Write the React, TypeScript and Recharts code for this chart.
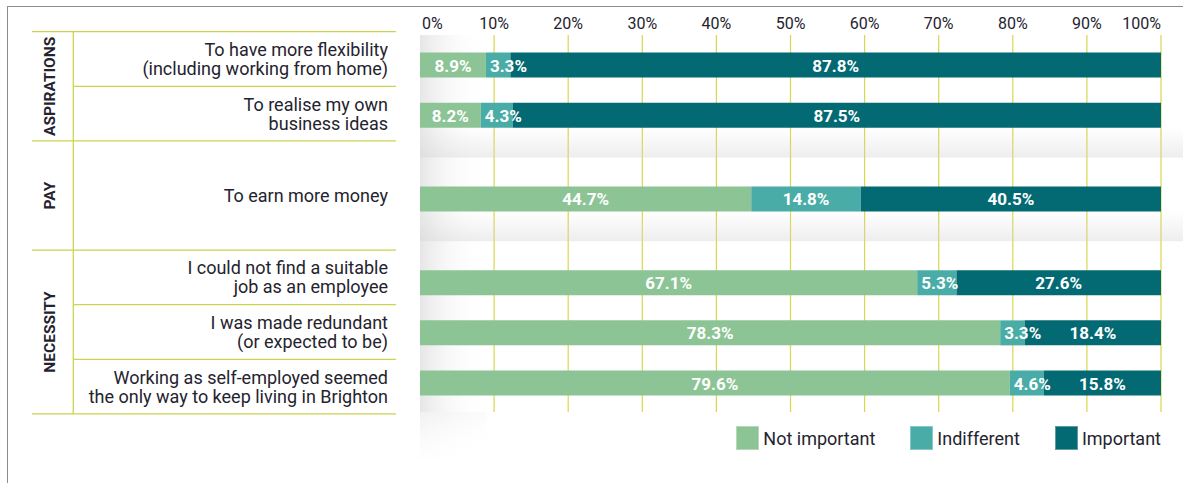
import React from 'react';
import {
  BarChart,
  Bar,
  XAxis,
  YAxis,
  CartesianGrid,
  Legend,
  LabelList,
  ReferenceArea,
} from 'recharts';

// ---------- data ----------
const categories = [
  'To have more flexibility\n(including working from home)',
  'To realise my own\nbusiness ideas',
  'To earn more money',
  'I could not find a suitable\njob as an employee',
  'I was made redundant\n(or expected to be)',
  'Working as self-employed seemed\nthe only way to keep living in Brighton',
];
const groupNames = ['ASPIRATIONS', 'PAY', 'NECESSITY'];
const categoryGroup = [0, 0, 1, 2, 2, 2];

const notImportant = [8.9, 8.2, 44.7, 67.1, 78.3, 79.6];
const indifferent = [3.3, 4.3, 14.8, 5.3, 3.3, 4.6];
const important = [87.8, 87.5, 40.5, 27.6, 18.4, 15.8];

const seriesKeys = ['notImportant', 'indifferent', 'important'];
const seriesNames = ['Not important', 'Indifferent', 'Important'];
const xTicks = [0, 10, 20, 30, 40, 50, 60, 70, 80, 90, 100];

// ---------- style / layout ----------
const COLORS = ['#8cc495', '#4aaca6', '#036a73'];
const FONT = 'Roboto, "DejaVu Sans", Arial, sans-serif';
const TEXT = '#24232e';
const GRID = '#d8d84c';
const TABLE_LINE = '#ccd34e';

const W = 1183;
const H = 483;
const ROW_STEP = 3; // y-units between rows of a group
const GROUP_STEP = 5; // y-units between groups
const BAR = 25;
const HALF_BAR_UNITS = 0.75;
const SHADE_UNITS = 1.8;
const LABEL_SIZE = 17;

// position of each row on the numeric band axis, derived from groups
const positions: number[] = [];
categories.forEach((_, i) => {
  if (i === 0) positions.push(0);
  else positions.push(positions[i - 1] + (categoryGroup[i] === categoryGroup[i - 1] ? ROW_STEP : GROUP_STEP));
});
const Y_DOMAIN: [number, number] = [-1.77, positions[positions.length - 1] + 1.75];

const data = categories.map((c, i) => ({
  name: c,
  pos: positions[i],
  notImportant: notImportant[i],
  indifferent: indifferent[i],
  important: important[i],
}));

// rows that close a group (but not the last group) get a shaded band beneath
const shadeRows = positions.filter(
  (_, i) => i < categories.length - 1 && categoryGroup[i] !== categoryGroup[i + 1],
);

const estWidth = (s: string, size: number) => {
  let w = 0;
  for (const ch of s) {
    if (ch === '.') w += 0.27;
    else if (ch === '%') w += 0.73;
    else w += 0.562;
  }
  return w * size;
};

const renderLabel = (props: any) => {
  const x = Number(props.x);
  const y = Number(props.y);
  const width = Number(props.width);
  const height = Number(props.height);
  const value = Number(props.value);
  if (!value) return null;
  const text = `${value.toFixed(1)}%`;
  const tw = estWidth(text, LABEL_SIZE);
  const fits = width >= tw + 5;
  return (
    <text
      x={fits ? x + width / 2 : x + 4}
      y={y + height / 2 + 6.5}
      textAnchor={fits ? 'middle' : 'start'}
      fill="#ffffff"
      fontFamily={FONT}
      fontSize={LABEL_SIZE}
      fontWeight={700}
    >
      {text}
    </text>
  );
};

const XTick = (props: any) => {
  const { x, y, payload } = props;
  const v = payload.value;
  const anchor = v === 0 ? 'start' : v === 100 ? 'end' : 'middle';
  return (
    <text
      x={Number(x) + (v === 0 ? 2 : 0)}
      y={Number(y)}
      dy={1.5}
      textAnchor={anchor}
      fill={TEXT}
      fontFamily={FONT}
      fontSize={16}
    >
      {v}%
    </text>
  );
};

const renderLegend = () => (
  <div
    style={{
      display: 'flex',
      justifyContent: 'flex-end',
      alignItems: 'center',
      paddingTop: 14,
      height: 24,
      fontFamily: FONT,
      fontSize: 18,
      color: TEXT,
    }}
  >
    {seriesNames.map((n, i) => (
      <div key={n} style={{ display: 'flex', alignItems: 'center', marginLeft: i ? 35 : 0 }}>
        <span
          style={{
            display: 'inline-block',
            width: 23,
            height: 24,
            background: COLORS[i],
            marginRight: 4,
            boxSizing: 'border-box',
            border: '1px solid rgba(255,255,255,0.35)',
          }}
        />
        <span>{n}</span>
      </div>
    ))}
  </div>
);

// ---------- left table ----------
const TABLE_TOP = 31.7;
const TABLE_UNIT = 54.6;
const T_X0 = 32;
const T_XV = 73.3;
const T_X1 = 396;
const LABEL_X = 388;

const LeftTable = () => {
  const groupSize = groupNames.map((_, g) => categoryGroup.filter((x) => x === g).length);
  const rows: { y0: number; y1: number }[] = [];
  let cur = TABLE_TOP;
  categories.forEach((_, i) => {
    const units = groupSize[categoryGroup[i]] === 1 ? 2 : 1;
    rows.push({ y0: cur, y1: cur + units * TABLE_UNIT });
    cur += units * TABLE_UNIT;
  });
  const bottom = cur;
  const groupSpans = groupNames.map((_, g) => {
    const idx = categoryGroup.map((x, i) => (x === g ? i : -1)).filter((i) => i >= 0);
    return { y0: rows[idx[0]].y0, y1: rows[idx[idx.length - 1]].y1 };
  });
  return (
    <svg width={420} height={H} style={{ position: 'absolute', left: 0, top: 0 }}>
      <line x1={T_X0} x2={T_X1} y1={TABLE_TOP} y2={TABLE_TOP} stroke={TABLE_LINE} strokeWidth={1.3} />
      <line x1={T_XV} x2={T_XV} y1={TABLE_TOP} y2={bottom} stroke={TABLE_LINE} strokeWidth={1.3} />
      {rows.map((r, i) => {
        const closesGroup = i === categories.length - 1 || categoryGroup[i] !== categoryGroup[i + 1];
        return (
          <line
            key={`l${i}`}
            x1={closesGroup ? T_X0 : T_XV}
            x2={T_X1}
            y1={r.y1}
            y2={r.y1}
            stroke={TABLE_LINE}
            strokeWidth={1.3}
          />
        );
      })}
      {rows.map((r, i) => {
        const lines = categories[i].split('\n');
        const c = (r.y0 + r.y1) / 2;
        return (
          <text key={`t${i}`} textAnchor="end" fill={TEXT} fontFamily={FONT} fontSize={18}>
            {lines.map((ln, k) => (
              <tspan key={k} x={LABEL_X} y={c + 6.5 + (k - (lines.length - 1) / 2) * 19}>
                {ln}
              </tspan>
            ))}
          </text>
        );
      })}
      {groupSpans.map((s, g) => {
        const cy = (s.y0 + s.y1) / 2;
        return (
          <text
            key={`g${g}`}
            x={55}
            y={cy}
            transform={`rotate(-90 55 ${cy})`}
            textAnchor="middle"
            fill={TEXT}
            fontFamily={FONT}
            fontSize={15.5}
            fontWeight={700}
          >
            {groupNames[g]}
          </text>
        );
      })}
    </svg>
  );
};

export default function App() {
  return (
    <div style={{ position: 'absolute', left: 0, top: 0, width: W, height: H, background: '#fff' }}>
      <div
        style={{
          position: 'absolute',
          left: 7,
          top: 6,
          width: W - 7,
          height: H - 6,
          borderTop: '1px solid #8c8c8c',
          borderLeft: '1px solid #8c8c8c',
          boxSizing: 'border-box',
        }}
      />
      <LeftTable />
      <div style={{ position: 'absolute', left: 0, top: 0 }}>
        <BarChart
          width={W}
          height={H}
          data={data}
          layout="vertical"
          barSize={BAR}
          margin={{ top: 0, right: 22, bottom: 33, left: 420 }}
        >
          <defs>
            <linearGradient id="leftShade" x1="0" y1="0" x2="1" y2="0">
              <stop offset="0" stopColor="#c8c8c8" stopOpacity={0.9} />
              <stop offset="0.4" stopColor="#dcdcdc" stopOpacity={0.45} />
              <stop offset="1" stopColor="#ffffff" stopOpacity={0} />
            </linearGradient>
            <linearGradient id="leftShadeLow" x1="0" y1="0" x2="0.7" y2="1">
              <stop offset="0" stopColor="#d2d2d2" stopOpacity={0.65} />
              <stop offset="1" stopColor="#ffffff" stopOpacity={0} />
            </linearGradient>
            <linearGradient id="bandShade" x1="0" y1="0" x2="0" y2="1">
              <stop offset="0" stopColor="#d4d4d4" stopOpacity={0} />
              <stop offset="1" stopColor="#d0d0d0" stopOpacity={0.75} />
            </linearGradient>
          </defs>
          <CartesianGrid
            horizontal={false}
            stroke={GRID}
            strokeWidth={1.2}
            verticalCoordinatesGenerator={(p: any) => {
              const s = p && p.xAxis && p.xAxis.scale;
              return xTicks
                .filter((t) => t > 0)
                .map((t) =>
                  typeof s === 'function' ? s(t) : p.offset.left + (p.offset.width * t) / 100,
                );
            }}
          />
          <XAxis
            type="number"
            orientation="top"
            domain={[0, 100]}
            ticks={xTicks}
            interval={0}
            height={35}
            axisLine={false}
            tickLine={false}
            tick={<XTick />}
          />
          <YAxis
            type="number"
            dataKey="pos"
            domain={Y_DOMAIN}
            ticks={positions}
            allowDataOverflow
            hide
          />
          <ReferenceArea
            x1={0}
            x2={9}
            y1={Y_DOMAIN[0]}
            y2={Y_DOMAIN[1]}
            fill="url(#leftShade)"
            stroke="none"
            ifOverflow="visible"
          />
          <ReferenceArea
            x1={0}
            x2={9}
            y1={Y_DOMAIN[1]}
            y2={Y_DOMAIN[1] + 2.8}
            fill="url(#leftShadeLow)"
            stroke="none"
            ifOverflow="visible"
          />
          {shadeRows.map((p) => (
            <ReferenceArea
              key={`s${p}`}
              x1={0}
              x2={103}
              y1={p + HALF_BAR_UNITS}
              y2={p + HALF_BAR_UNITS + SHADE_UNITS}
              fill="url(#bandShade)"
              stroke="none"
              ifOverflow="visible"
            />
          ))}
          {seriesKeys.map((k, i) => (
            <Bar
              key={k}
              dataKey={k}
              name={seriesNames[i]}
              stackId="s"
              fill={COLORS[i]}
              isAnimationActive={false}
            >
              <LabelList dataKey={k} content={renderLabel} />
            </Bar>
          ))}
          <Legend verticalAlign="bottom" align="right" content={renderLegend} />
        </BarChart>
      </div>
    </div>
  );
}
